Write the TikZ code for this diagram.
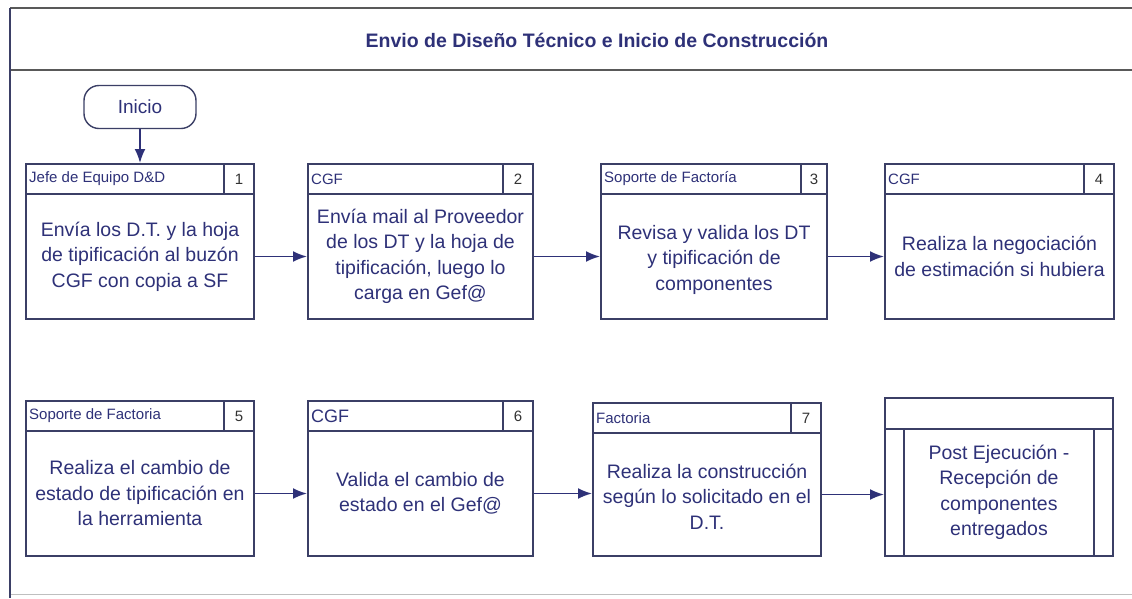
\documentclass[tikz,border=0pt]{standalone}
\usepackage{fontspec}
\setmainfont{Liberation Sans}
\usetikzlibrary{arrows.meta}
\definecolor{ink}{HTML}{2E3178}
\definecolor{edge}{HTML}{3B3F66}
\begin{document}
\begin{tikzpicture}[x=1pt,y=-1pt,
  hdr/.style={draw=edge, line width=2pt, rectangle, anchor=north west, minimum height=30pt, inner sep=3pt},
  numcell/.style={draw=edge, line width=2pt, rectangle, anchor=north east, minimum height=30pt, minimum width=30pt, inner sep=0pt, font=\fontsize{15}{16}\selectfont, text=black!80},
  bodybox/.style={draw=edge, line width=2pt, rectangle, anchor=north west, minimum width=228pt, minimum height=125pt, inner sep=0pt},
  btext/.style={align=center, text=ink, font=\fontsize{19.5}{25.5}\selectfont},
  arr/.style={draw=ink, line width=1.8pt, -{Latex[length=14pt,width=11pt]}},
  htext/.style={anchor=west, text=ink, font=\fontsize{15}{16}\selectfont, inner sep=0pt}
]
\useasboundingbox (0,0) rectangle (1132,598);
\fill[white] (0,0) rectangle (1132,598);
% frame
\draw[draw=black!65, line width=2pt] (10,8) -- (1132,8);
\draw[draw=black!65, line width=2pt] (10,70) -- (1132,70);
\draw[draw=black!25, line width=1pt] (10,594) -- (1132,594);
\draw[draw=edge, line width=2.5pt] (10,8) -- (10,598);
\node[text=ink, font=\bfseries\fontsize{19.5}{22}\selectfont] (title) at (597,40) {Envio de Diseño Técnico e Inicio de Construcción};
% start
\node[draw=edge, line width=1.4pt, rounded corners=15pt, minimum width=112pt, minimum height=43pt, text=ink, font=\fontsize{19}{20}\selectfont] (inicio) at (140,107) {Inicio};

% ---------- row 1 ----------
\node[hdr, minimum width=228pt] (h1) at (25,163) {};
\node[numcell] (n1) at (h1.north east) {1};
\node[htext] (t1) at ([xshift=4pt]h1.west) {Jefe de Equipo D\&D};
\node[bodybox] (b1) at (25,193) {};
\node[btext] (x1) at (b1.center) {Envía los D.T. y la hoja\\de tipificación al buzón\\CGF con copia a SF};

\node[hdr, minimum width=225pt] (h2) at (307,163) {};
\node[numcell] (n2) at (h2.north east) {2};
\node[htext] (t2) at ([xshift=4pt]h2.west) {CGF};
\node[bodybox, minimum width=225pt] (b2) at (307,193) {};
\node[btext] (x2) at (b2.center) {Envía mail al Proveedor\\de los DT y la hoja de\\tipificación, luego lo\\carga en Gef@};

\node[hdr, minimum width=226pt] (h3) at (600,163) {};
\node[numcell, minimum width=26pt] (n3) at (h3.north east) {3};
\node[htext] (t3) at ([xshift=4pt]h3.west) {Soporte de Factoría};
\node[bodybox, minimum width=226pt] (b3) at (600,193) {};
\node[btext] (x3) at ([yshift=-3pt]b3.center) {Revisa y valida los DT\\y tipificación de\\componentes};

\node[hdr, minimum width=229pt] (h4) at (884,163) {};
\node[numcell] (n4) at (h4.north east) {4};
\node[htext] (t4) at ([xshift=4pt]h4.west) {CGF};
\node[bodybox, minimum width=229pt] (b4) at (884,193) {};
\node[btext] (x4) at (b4.center) {Realiza la negociación\\de estimación si hubiera};

% ---------- row 2 ----------
\node[hdr, minimum width=228pt] (h5) at (25,400) {};
\node[numcell] (n5) at (h5.north east) {5};
\node[htext] (t5) at ([xshift=4pt]h5.west) {Soporte de Factoria};
\node[bodybox] (b5) at (25,430) {};
\node[btext] (x5) at (b5.center) {Realiza el cambio de\\estado de tipificación en\\la herramienta};

\node[hdr, minimum width=225pt] (h6) at (307,400) {};
\node[numcell] (n6) at (h6.north east) {6};
\node[htext, font=\fontsize{18}{19}\selectfont] (t6) at ([xshift=4pt]h6.west) {CGF};
\node[bodybox, minimum width=225pt] (b6) at (307,430) {};
\node[btext] (x6) at (b6.center) {Valida el cambio de\\estado en el Gef@};

\node[hdr, minimum width=228pt] (h7) at (592,402) {};
\node[numcell] (n7) at (h7.north east) {7};
\node[htext] (t7) at ([xshift=4pt]h7.west) {Factoria};
\node[bodybox, minimum height=123pt] (b7) at (592,432) {};
\node[btext] (x7) at ([yshift=-2pt]b7.center) {Realiza la construcción\\según lo solicitado en el\\D.T.};

\node[hdr, minimum width=228pt, minimum height=31pt] (h8) at (884,397) {};
\node[bodybox, minimum height=127pt] (b8) at (884,428) {};
\node[draw=edge, line width=2pt, rectangle, minimum width=190pt, minimum height=127pt, inner sep=0pt] (i8) at (b8.center) {};
\node[btext] (x8) at (b8.center) {Post Ejecución -\\Recepción de\\componentes\\entregados};

% connectors
\draw[arr] (inicio.south) -- (inicio.south |- h1.north);
\draw[arr] (b1.east) -- (b2.west);
\draw[arr] (b2.east) -- (b3.west);
\draw[arr] (b3.east) -- (b4.west);
\draw[arr] (b5.east) -- (b6.west);
\draw[arr] (b6.east) -- (b6.east -| b7.west);
\draw[arr] (b7.east) -- (b7.east -| b8.west);
\end{tikzpicture}
\end{document}
